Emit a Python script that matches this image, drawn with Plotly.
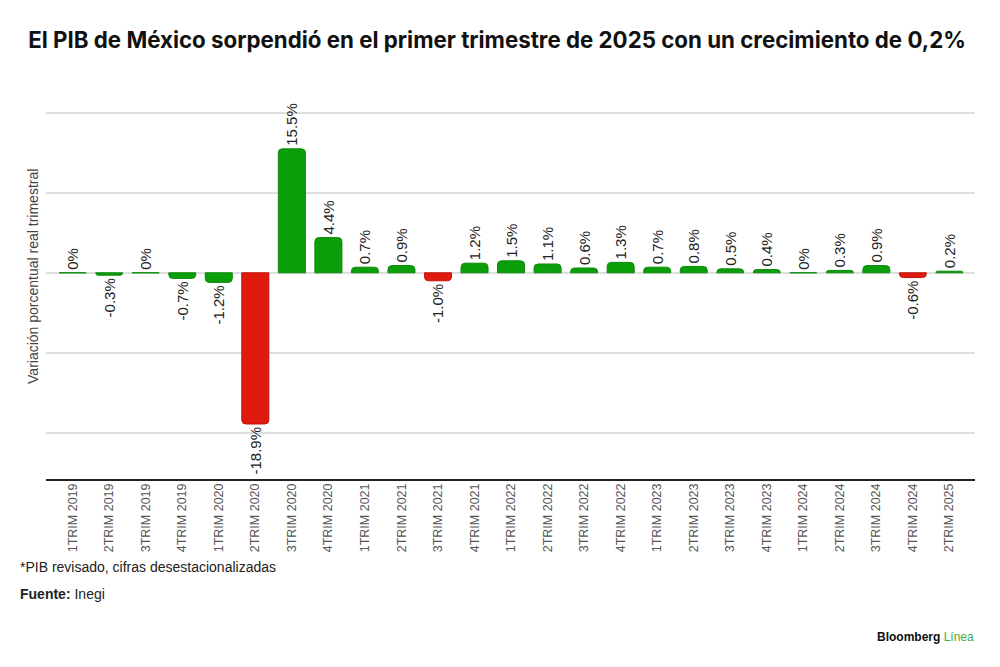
import plotly.graph_objects as go

categories = ["1TRIM 2019", "2TRIM 2019", "3TRIM 2019", "4TRIM 2019",
              "1TRIM 2020", "2TRIM 2020", "3TRIM 2020", "4TRIM 2020",
              "1TRIM 2021", "2TRIM 2021", "3TRIM 2021", "4TRIM 2021",
              "1TRIM 2022", "2TRIM 2022", "3TRIM 2022", "4TRIM 2022",
              "1TRIM 2023", "2TRIM 2023", "3TRIM 2023", "4TRIM 2023",
              "1TRIM 2024", "2TRIM 2024", "3TRIM 2024", "4TRIM 2024",
              "2TRIM 2025"]
values = [0.0, -0.3, 0.0, -0.7, -1.2, -18.9, 15.5, 4.4, 0.7, 0.9, -1.0, 1.2,
          1.5, 1.1, 0.6, 1.3, 0.7, 0.8, 0.5, 0.4, 0.0, 0.3, 0.9, -0.6, 0.2]
red_categories = ["2TRIM 2020", "3TRIM 2021", "4TRIM 2024"]
labels = ["0%" if v == 0 else f"{v:.1f}%" for v in values]

GREEN = "#0b9e0b"
RED = "#e01a0e"
colors = [RED if c in red_categories else GREEN for c in categories]
line_colors = ["#c0150b" if c in red_categories else "#098a09" for c in categories]

FONT = "Liberation Sans, Arial, sans-serif"

fig = go.Figure()
fig.add_trace(go.Bar(
    x=list(range(len(categories))), y=values,
    marker=dict(color=colors, line=dict(color=line_colors, width=1)),
    width=0.74,
    text=labels, textposition="outside", textangle=-90,
    textfont=dict(family=FONT, size=15, color="#222"),
    cliponaxis=False, hoverinfo="skip",
))

fig.update_layout(
    width=992, height=659,
    margin=dict(l=38, r=25, t=92, b=187),
    paper_bgcolor="white", plot_bgcolor="white",
    showlegend=False,
    barcornerradius=4,
    uniformtext=dict(mode="show", minsize=15),
    title=dict(
        text="<b>El PIB de México sorpendió en el primer trimestre de 2025 con un crecimiento de 0,2%</b>",
        x=0.493, xanchor="center", y=0.9514, yanchor="middle",
        font=dict(family="Inter, Arial, sans-serif", size=22.3, color="#111"),
    ),
    xaxis=dict(
        tickmode="array", tickvals=list(range(len(categories))), ticktext=categories,
        tickangle=-90, range=[-0.73, 24.7],
        tickfont=dict(family=FONT, size=12.5, color="#555"),
        showgrid=False, showline=False, zeroline=False, ticks="",
    ),
    yaxis=dict(
        range=[-25.9, 21.6], tickvals=[-20, -10, 0, 10, 20], showticklabels=False,
        showgrid=True, gridcolor="#dedede", gridwidth=1.5,
        zeroline=True, zerolinecolor="#dedede", zerolinewidth=1.5,
        showline=False, ticks="",
    ),
    shapes=[dict(type="line", xref="paper", yref="paper", x0=0, x1=1, y0=0, y1=0,
                 line=dict(color="#222", width=2))],
    annotations=[
        dict(text="Variación porcentual real trimestral", xref="paper", yref="paper",
             x=-0.014, y=0.537, xanchor="center", yanchor="middle", textangle=-90,
             showarrow=False, font=dict(family=FONT, size=14, color="#444")),
        dict(text="*PIB revisado, cifras desestacionalizadas", xref="paper", yref="paper",
             x=-0.030, y=-0.229, xanchor="left", yanchor="middle", showarrow=False,
             font=dict(family=FONT, size=14, color="#222")),
        dict(text="<b>Fuente:</b> Inegi", xref="paper", yref="paper",
             x=-0.030, y=-0.300, xanchor="left", yanchor="middle", showarrow=False,
             font=dict(family=FONT, size=14, color="#222")),
        dict(text="<b>Bloomberg</b> <span style='color:#3cae3c'>Línea</span>", xref="paper", yref="paper",
             x=1.0013, y=-0.413, xanchor="right", yanchor="middle", showarrow=False,
             font=dict(family=FONT, size=12, color="#111")),
    ],
)

fig.write_html("out.html")
